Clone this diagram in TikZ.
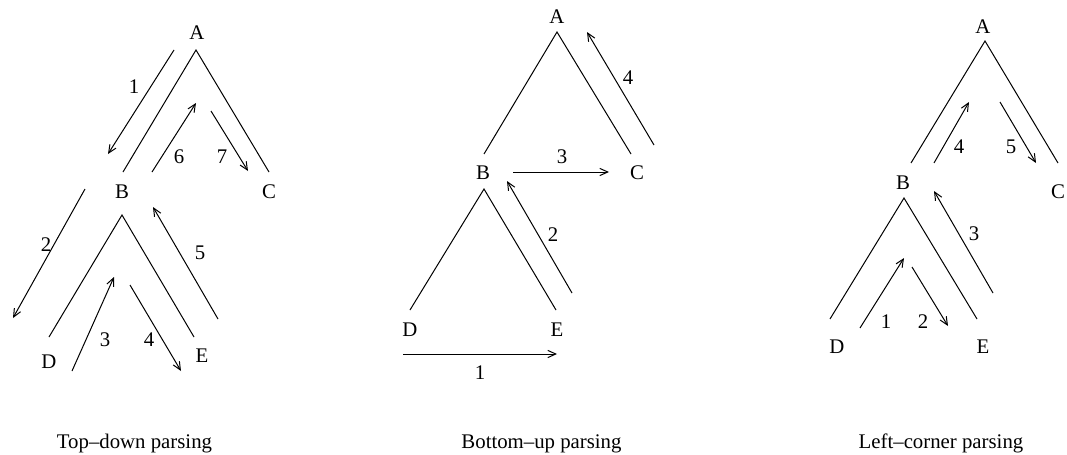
\documentclass[tikz,border=0pt]{standalone}
\usepackage{fontspec}
\setmainfont{Liberation Serif}
\usetikzlibrary{arrows.meta}
\tikzset{
  lbl/.style={inner sep=0pt, font=\fontsize{10.4}{12}\selectfont},
  branch/.style={line width=0.5pt},
  move/.style={line width=0.5pt, -{Straight Barb[length=4pt,width=3.6pt]}},
}
\begin{document}
\begin{tikzpicture}[x=0.5pt,y=-0.5pt]
\useasboundingbox (0,0) rectangle (1067,455);
% top-down
\node[lbl] (tdA) at (197,33) {A}; \node[lbl] (tdB) at (122,192) {B};
\node[lbl] (tdC) at (269,192) {C}; \node[lbl] (tdD) at (49,362) {D};
\node[lbl] (tdE) at (202,356) {E};
\coordinate (tdtA) at (196,50); \coordinate (tdtB) at (122,215);
\coordinate (tdbB) at (123,172); \coordinate (tdbC) at (269,172);
\coordinate (tdbD) at (49,337); \coordinate (tdbE) at (194,337);
\draw[branch] (tdbB)--(tdtA)--(tdbC);
\draw[branch] (tdbD)--(tdtB)--(tdbE);
\coordinate (td1a) at (174,50);  \coordinate (td1b) at (108,154);
\coordinate (td2a) at (85,189);  \coordinate (td2b) at (13,318);
\coordinate (td3a) at (72,371);  \coordinate (td3b) at (114,277);
\coordinate (td4a) at (130,285); \coordinate (td4b) at (181,371);
\coordinate (td5a) at (218,319); \coordinate (td5b) at (153,207);
\coordinate (td6a) at (152,172); \coordinate (td6b) at (196,103);
\coordinate (td7a) at (211,111); \coordinate (td7b) at (248,171);
\draw[move] (td1a)--(td1b); \node[lbl] (td1) at (134,87) {1};
\draw[move] (td2a)--(td2b); \node[lbl] (td2) at (46,245) {2};
\draw[move] (td3a)--(td3b); \node[lbl] (td3) at (105,340) {3};
\draw[move] (td4a)--(td4b); \node[lbl] (td4) at (149,340) {4};
\draw[move] (td5a)--(td5b); \node[lbl] (td5) at (200,253) {5};
\draw[move] (td6a)--(td6b); \node[lbl] (td6) at (179,157) {6};
\draw[move] (td7a)--(td7b); \node[lbl] (td7) at (222,157) {7};
\node[lbl, anchor=base] (tdcap) at (134.5,448) {Top--down parsing};
% bottom-up
\node[lbl] (buA) at (557,17) {A}; \node[lbl] (buB) at (483,173) {B};
\node[lbl] (buC) at (637,173) {C}; \node[lbl] (buD) at (410,330) {D};
\node[lbl] (buE) at (557,330) {E};
\coordinate (butA) at (557,32); \coordinate (butB) at (484,189);
\coordinate (bubB) at (484,154); \coordinate (bubC) at (631,154);
\coordinate (bubD) at (410,310); \coordinate (bubE) at (556,310);
\draw[branch] (bubB)--(butA)--(bubC);
\draw[branch] (bubD)--(butB)--(bubE);
\coordinate (bu1a) at (403,354); \coordinate (bu1b) at (557,354);
\coordinate (bu2a) at (572,293); \coordinate (bu2b) at (507,181);
\coordinate (bu3a) at (513,172); \coordinate (bu3b) at (609,172);
\coordinate (bu4a) at (654,145); \coordinate (bu4b) at (587,32);
\draw[move] (bu1a)--(bu1b); \node[lbl] (bu1) at (480,373) {1};
\draw[move] (bu2a)--(bu2b); \node[lbl] (bu2) at (553,235) {2};
\draw[move] (bu3a)--(bu3b); \node[lbl] (bu3) at (562,157) {3};
\draw[move] (bu4a)--(bu4b); \node[lbl] (bu4) at (628,78) {4};
\node[lbl, anchor=base] (bucap) at (541.5,448) {Bottom--up parsing};
% left-corner
\node[lbl] (lcA) at (983,27) {A}; \node[lbl] (lcB) at (903,183) {B};
\node[lbl] (lcC) at (1058,192) {C}; \node[lbl] (lcD) at (837,347) {D};
\node[lbl] (lcE) at (983,347) {E};
\coordinate (lctA) at (985,41); \coordinate (lctB) at (904,198);
\coordinate (lcbB) at (911,163); \coordinate (lcbC) at (1058,163);
\coordinate (lcbD) at (830,319); \coordinate (lcbE) at (977,319);
\draw[branch] (lcbB)--(lctA)--(lcbC);
\draw[branch] (lcbD)--(lctB)--(lcbE);
\coordinate (lc1a) at (860,328);  \coordinate (lc1b) at (904,258);
\coordinate (lc2a) at (912,267);  \coordinate (lc2b) at (948,326);
\coordinate (lc3a) at (993,293);  \coordinate (lc3b) at (934,191);
\coordinate (lc4a) at (934,163);  \coordinate (lc4b) at (969,102);
\coordinate (lc5a) at (1000,102); \coordinate (lc5b) at (1036,163);
\draw[move] (lc1a)--(lc1b); \node[lbl] (lc1) at (886,322) {1};
\draw[move] (lc2a)--(lc2b); \node[lbl] (lc2) at (923,322) {2};
\draw[move] (lc3a)--(lc3b); \node[lbl] (lc3) at (974,234) {3};
\draw[move] (lc4a)--(lc4b); \node[lbl] (lc4) at (959,147) {4};
\draw[move] (lc5a)--(lc5b); \node[lbl] (lc5) at (1011,147) {5};
\node[lbl, anchor=base] (lccap) at (941,448) {Left--corner parsing};
\end{tikzpicture}
\end{document}
